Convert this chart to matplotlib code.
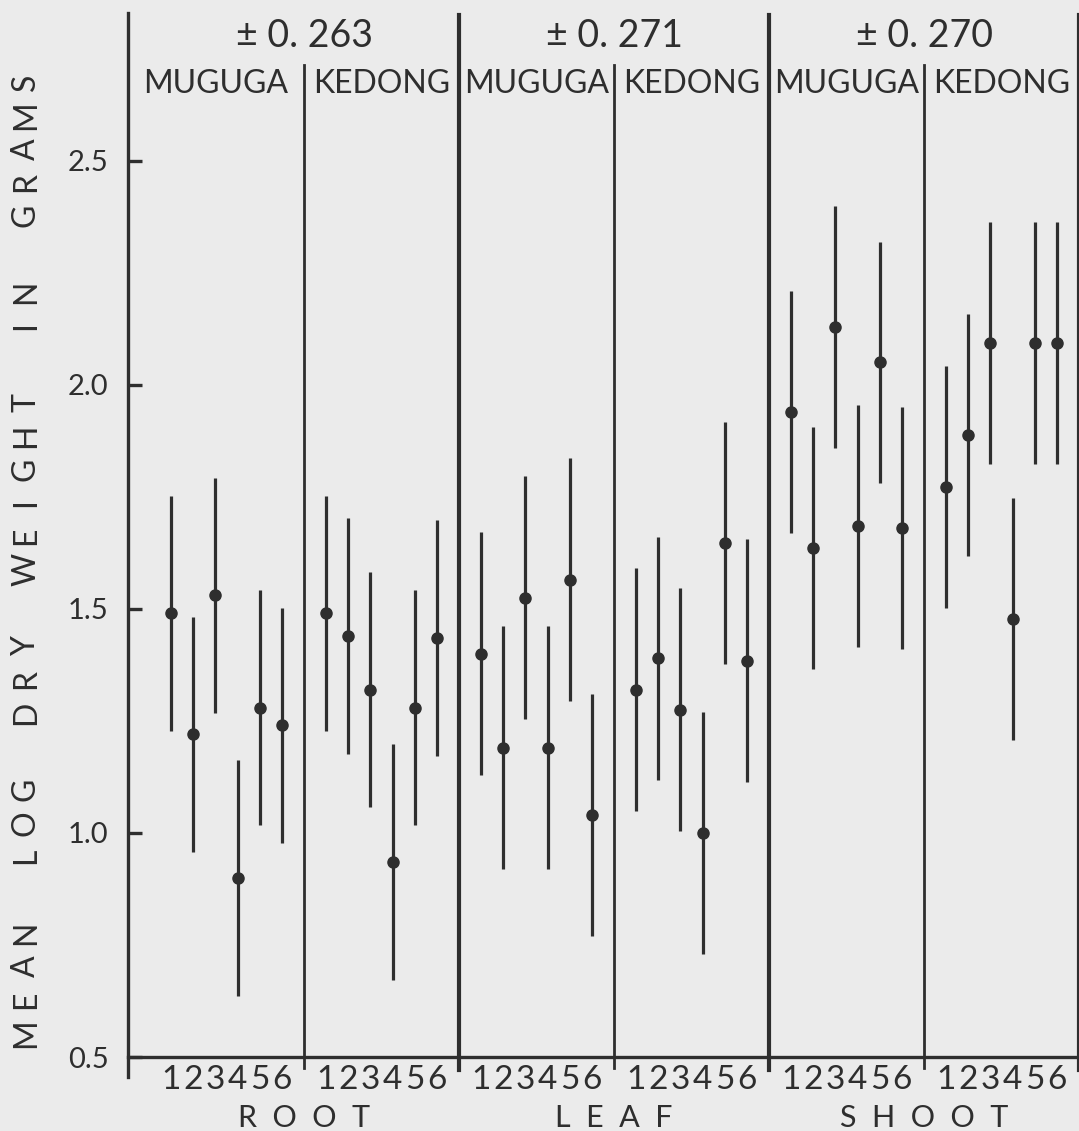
import matplotlib
matplotlib.use("Agg")
import matplotlib.pyplot as plt

# ---------------- data ----------------
organs = ["ROOT", "LEAF", "SHOOT"]
sites = ["MUGUGA", "KEDONG"]
treatments = ["1", "2", "3", "4", "5", "6"]
organ_errors = [0.263, 0.271, 0.270]
error_labels = ["± 0. 263", "± 0. 271", "± 0. 270"]

root_muguga = [1.49, 1.22, 1.53, 0.90, 1.28, 1.24]
root_kedong = [1.49, 1.44, 1.32, 0.935, 1.28, 1.435]
leaf_muguga = [1.40, 1.19, 1.525, 1.19, 1.565, 1.04]
leaf_kedong = [1.32, 1.39, 1.275, 1.00, 1.647, 1.384]
shoot_muguga = [1.94, 1.636, 2.13, 1.685, 2.05, 1.68]
shoot_kedong = [1.772, 1.888, 2.094, 1.478, 2.094, 2.094]

yticks = [0.5, 1.0, 1.5, 2.0, 2.5]
ytick_labels = ["0.5", "1.0", "1.5", "2.0", "2.5"]
ylabel = "MEAN LOG DRY WEIGHT IN GRAMS"

series = [root_muguga, root_kedong, leaf_muguga, leaf_kedong, shoot_muguga, shoot_kedong]

# ---------------- style ----------------
INK = "#2e2e2e"
BG = "#ebebeb"
FONT = "Lato"
plt.rcParams["font.family"] = [FONT, "DejaVu Sans"]

W, H = 1079, 1131
fig = plt.figure(figsize=(W / 100, H / 100), dpi=100, facecolor=BG)
ax = fig.add_axes([128 / W, (H - 1057) / H, 951 / W, 1044 / H])
ax.patch.set_alpha(0)
XMIN, XMAX = -0.95, 42
YMIN, YMAX = 0.5, 2.83
ax.set_xlim(XMIN, XMAX)
ax.set_ylim(YMIN, YMAX)

for s in ["top", "right", "left"]:
    ax.spines[s].set_visible(False)
ax.spines["bottom"].set_linewidth(2.4)
ax.spines["bottom"].set_color(INK)

slot = 7  # positions per site block (6 treatments + divider)

# error bars and means
for g, vals in enumerate(series):
    xs = [g * slot + i + 1 for i in range(len(vals))]
    ax.errorbar(xs, vals, yerr=organ_errors[g // 2], fmt="o", color=INK,
                ms=8, elinewidth=2.3, capsize=0, zorder=3)

# x tick labels: treatment numbers
xt, xl = [], []
for g in range(len(series)):
    for i, t in enumerate(treatments):
        xt.append(g * slot + i + 1)
        xl.append(t)
ax.set_xticks(xt)
ax.set_xticklabels(xl, fontsize=24, color=INK)
ax.tick_params(axis="x", length=0, pad=6)

# y ticks
ax.set_yticks(yticks)
ax.set_yticklabels(ytick_labels, fontsize=21, color=INK)
ax.tick_params(axis="y", direction="in", length=10, width=2.4, pad=14, color=INK)

# left axis line (extends below the bottom axis)
ax.plot([XMIN, XMIN], [YMIN - 0.045, YMAX], color=INK, lw=2.4, clip_on=False, zorder=4)

# dividers
for k in range(1, 7):
    x = k * slot
    if k % 2 == 0:  # organ boundaries (thick, full height)
        ax.plot([x, x], [YMIN - 0.03, 2.826], color=INK, lw=3.0, clip_on=False, zorder=4)
    else:  # site boundaries (thin)
        ax.plot([x, x], [YMIN - 0.025, 2.715], color=INK, lw=2.0, clip_on=False, zorder=4)

# headers
for o in range(len(organs)):
    ax.text(o * 2 * slot + slot, 2.779, error_labels[o], ha="center", va="center",
            fontsize=27, color=INK)
    ax.text(o * 2 * slot + slot, 0.5 - 0.157, "  ".join(organs[o]), ha="center", va="baseline",
            fontsize=22, color=INK, clip_on=False)
    for s in range(2):
        left = o * 2 * slot + s * slot + (XMIN if (o == 0 and s == 0) else 0)
        right = o * 2 * slot + (s + 1) * slot
        ax.text((left + right) / 2, 2.672, sites[s], ha="center", va="center",
                fontsize=23, color=INK)

# y axis label: spaced capitals, laid out letter by letter (bottom to top)
y_lo_px, y_hi_px = 1033, 82          # centres of first and last letter (pixels from top)
word_gap = 2.3                        # gap between words, in letter pitches
steps = []
pos = 0.0
prev_space = False
for ch in ylabel:
    if ch == " ":
        prev_space = True
        continue
    if steps:
        pos += word_gap if prev_space else 1.0
    steps.append((ch, pos))
    prev_space = False
pitch = (y_lo_px - y_hi_px) / steps[-1][1]
for ch, p in steps:
    ypx = y_lo_px - p * pitch
    fig.text(26 / W, 1 - ypx / H, ch, rotation=90, ha="center", va="center",
             fontsize=23, color=INK)

fig.savefig("out.png", dpi=100, facecolor=BG)
